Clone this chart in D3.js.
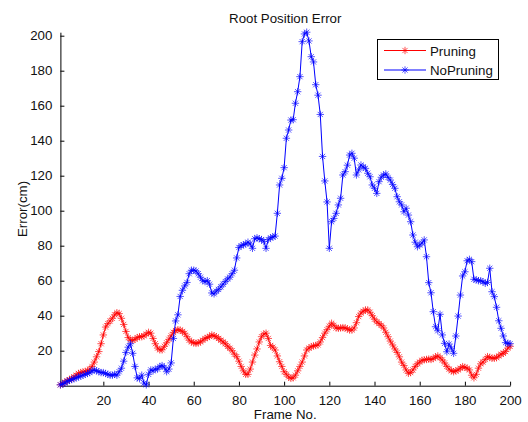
<!DOCTYPE html>
<html>
<head>
<meta charset="utf-8">
<script src="https://cdn.jsdelivr.net/npm/d3@7"></script>
<style>
  body { margin: 0; background: #fff; }
  svg { display: block; font-family: "Liberation Sans", Arial, sans-serif; }
</style>
</head>
<body>
<svg width="528" height="422"></svg>
<script>
// frame numbers 1..200
var frames = d3.range(1, 201)

var pruning = [
    0.5, 1.2, 2, 2.8, 3.5, 4.2, 5, 6, 7, 7.5,
    7.8, 8.2, 8.5, 9.5, 11, 13.5, 16.5, 19.5, 24, 29,
    33.5, 35.5, 37, 38.5, 40.5, 41.7, 41.2, 38.5, 35, 31,
    27.5, 26, 26, 26.5, 27.5, 28, 28, 28.5, 29.5, 30.5,
    30, 27, 24, 21.5, 20.5, 20.5, 22.5, 24.5, 26.5, 28.5,
    30.5, 31.5, 32, 31.8, 31, 30, 28, 26, 25, 24.5,
    24.2, 24.5, 25, 26, 27, 27.5, 28.2, 29, 28.5, 28,
    27, 26, 25, 24, 22.5, 21.4, 20, 18, 16.6, 14,
    11, 8.5, 6.5, 6.5, 9.5, 13.5, 17.5, 21, 25, 28,
    29.5, 30, 27, 23, 22, 20.4, 17, 13.7, 11, 8,
    6.5, 5, 4.2, 4.5, 6, 8.5, 11, 13.5, 17, 20.4,
    21.5, 22.3, 22.7, 23, 23.3, 25, 27.5, 30, 32, 34,
    35.7, 34.5, 33, 32.8, 33, 33.2, 33, 32.5, 31.8, 31.8,
    33, 36, 39.5, 41.5, 42.5, 43.3, 43.3, 42, 40, 38,
    36.5, 35.5, 34.5, 33, 30.5, 28, 25.5, 23.3, 21, 19,
    16.5, 13.5, 11.5, 9, 7.1, 7.5, 9, 11, 12.5, 13.5,
    14.5, 14.8, 15, 15.2, 15, 15.5, 16.5, 17, 16, 14.7,
    13, 11, 9.5, 8.5, 8, 8.5, 9, 10, 10.9, 10.5,
    10, 9, 6, 4.5, 6.5, 10, 12.5, 13.5, 15, 16.6,
    16.2, 15.7, 15.7, 16, 17, 18, 18.5, 19.5, 21.5, 22.5
]

var noPruning = [
    0.5, 1, 1.5, 2.5, 3, 3.5, 4, 4.5, 5, 5.5,
    6, 6.5, 7, 7.5, 8.5, 9, 8.5, 8, 7.5, 7.5,
    7, 6.5, 6, 6, 6.5, 6, 8, 10, 14, 19,
    22, 24, 18.5, 11, 4.5, 4, 6, 1.5, 0.5, 6.5,
    9, 8.5, 9.5, 9.5, 11, 11.5, 10.5, 8, 9.5, 13,
    27, 37, 40.5, 51, 54.5, 57, 59, 64, 66, 66,
    65.5, 64, 62, 60, 59.5, 60, 58, 53, 52.5, 54,
    55, 56.5, 58, 59.5, 61, 62, 64, 66, 73, 79,
    80, 80.5, 81, 82, 81, 78.5, 84, 84.5, 84, 83.5,
    82.5, 78.5, 83.5, 84.5, 85, 85.5, 98.5, 114.7, 118.5, 124.6,
    141.4, 146.1, 151.8, 152, 161.4, 168, 176.6, 196.6, 201, 202,
    197, 188, 185, 172, 166, 155, 131, 117, 105, 78.5,
    93.7, 95.6, 98.5, 103.3, 107.1, 120.4, 122.3, 126, 131.8, 132.8,
    130, 120.4, 123.3, 126.1, 125, 124.2, 121.4, 119.4, 114.7, 112.8,
    109.9, 116.6, 119.1, 120.4, 121, 119, 117.5, 115, 112.8, 108,
    105.1, 103.3, 99.4, 101.4, 97.5, 93.7, 86.1, 82, 79.4, 80.4,
    81.5, 83.3, 73.7, 58.9, 53.1, 42.3, 33.7, 31.4, 40.8, 29,
    24.2, 19.4, 23.8, 21.4, 18.5, 28.4, 39.8, 51.8, 62.7, 65.1,
    71.4, 72.2, 70.9, 60.8, 60.5, 60, 60, 59.4, 58.5, 59,
    67.1, 53.7, 50.9, 44.8, 37.1, 32.8, 28.4, 24.6, 24.2, 24
]

var xTicks = [20, 40, 60, 80, 100, 120, 140, 160, 180, 200]
var yTicks = [20, 40, 60, 80, 100, 120, 140, 160, 180, 200]

var seriesNames = ["Pruning", "NoPruning"]
var seriesColors = ["#ff0000", "#0000ff"]

var svg = d3.select("svg")
var plotLeft = 60.4, plotRight = 510.1, plotTop = 32.2, plotBottom = 385.7

var x = d3.scaleLinear().domain([1, 200]).range([plotLeft, plotRight])
var y = d3.scaleLinear().domain([0, 202]).range([plotBottom, plotTop])

// asterisk marker like matlab '*'
var star = "M-3.7,0H3.7M0,-3.7V3.7M-2.6,-2.6L2.6,2.6M-2.6,2.6L2.6,-2.6"

// axes, ticks point inward
var xAxis = d3.axisBottom(x).tickValues(xTicks).tickSizeInner(-4).tickSizeOuter(0).tickPadding(10)
var yAxis = d3.axisLeft(y).tickValues(yTicks).tickSizeInner(-4).tickSizeOuter(0).tickPadding(8)

var gx = svg.append("g").attr("transform", "translate(0," + plotBottom + ")").call(xAxis)
var gy = svg.append("g").attr("transform", "translate(" + plotLeft + ",0)").call(yAxis)

svg.selectAll(".domain").attr("stroke", "#000").attr("stroke-width", 1)
svg.selectAll(".tick line").attr("stroke", "#000")
svg.selectAll(".tick text")
    .attr("fill", "#111")
    .style("font-size", "13.3px")
    .style("font-family", "'Liberation Sans', Arial, sans-serif")

var line = d3.line()
    .x(function(d, i) { return x(frames[i]) })
    .y(function(d) { return y(d) })

var allSeries = [pruning, noPruning]

allSeries.forEach(function(values, k) {
    var g = svg.append("g")
    g.append("path")
        .attr("d", line(values))
        .attr("fill", "none")
        .attr("stroke", seriesColors[k])
        .attr("stroke-width", 1)

    g.selectAll("path.mk")
        .data(values)
        .enter().append("path")
        .attr("class", "mk")
        .attr("d", star)
        .attr("transform", function(d, i) { return "translate(" + x(frames[i]) + "," + y(d) + ")" })
        .attr("fill", "none")
        .attr("stroke", seriesColors[k])
        .attr("stroke-width", 0.9)
        .attr("stroke-opacity", 0.75)
})

// title and axis labels
svg.append("text")
    .attr("x", (plotLeft + plotRight) / 2).attr("y", 22.5)
    .attr("text-anchor", "middle")
    .style("font-size", "13.3px")
    .attr("fill", "#111")
    .text("Root Position Error")

svg.append("text")
    .attr("x", (plotLeft + plotRight) / 2).attr("y", 419)
    .attr("text-anchor", "middle")
    .style("font-size", "13.3px")
    .attr("fill", "#111")
    .text("Frame No.")

svg.append("text")
    .attr("transform", "translate(27," + (plotTop + plotBottom) / 2 + ") rotate(-90)")
    .attr("text-anchor", "middle")
    .style("font-size", "13.3px")
    .attr("fill", "#111")
    .text("Error(cm)")

// legend
var legend = svg.append("g")
legend.append("rect")
    .attr("x", 377.5).attr("y", 39.5)
    .attr("width", 121).attr("height", 40)
    .attr("fill", "#fff")
    .attr("stroke", "#000")
    .attr("stroke-width", 1)

seriesNames.forEach(function(name, k) {
    var ly = 50.5 + k * 19.5
    legend.append("line")
        .attr("x1", 384).attr("x2", 426)
        .attr("y1", ly).attr("y2", ly)
        .attr("stroke", seriesColors[k])
    legend.append("path")
        .attr("d", star)
        .attr("transform", "translate(405," + ly + ")")
        .attr("fill", "none")
        .attr("stroke", seriesColors[k])
        .attr("stroke-width", 0.9)
        .attr("stroke-opacity", 0.75)
    legend.append("text")
        .attr("x", 430).attr("y", ly + 5)
        .style("font-size", "13.3px")
        .attr("fill", "#111")
        .text(name)
})
</script>
</body>
</html>
